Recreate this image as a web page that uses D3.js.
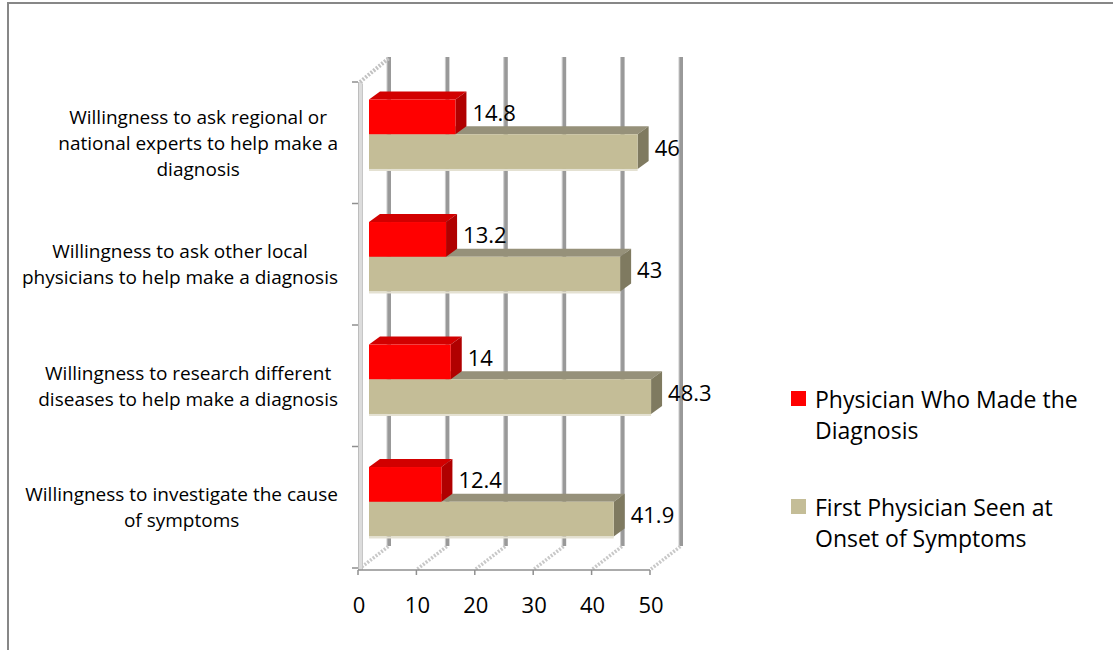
<!DOCTYPE html>
<html>
<head>
<meta charset="utf-8">
<script src="https://cdn.jsdelivr.net/npm/d3@7"></script>
<style>
  html, body { margin: 0; padding: 0; background: #fff; }
  svg { display: block; font-family: "Open Sans", "Noto Sans", sans-serif; }
</style>
</head>
<body>
<svg id="chart" width="1113" height="650"></svg>
<script>
// Category labels (line breaks as drawn on the axis)
const categories = [
  "Willingness to ask regional or\nnational experts to help make a\ndiagnosis",
  "Willingness to ask other local\nphysicians to help make a diagnosis",
  "Willingness to research different\ndiseases to help make a diagnosis",
  "Willingness to investigate the cause\nof symptoms"
];
const diagnosingPhysician = [14.8, 13.2, 14, 12.4];
const firstPhysician = [46, 43, 48.3, 41.9];
const seriesNames = [
  "Physician Who Made the\nDiagnosis",
  "First Physician Seen at\nOnset of Symptoms"
];
const seriesColors = ["#ff0000", "#c4bd97"];
const xTicks = [0, 10, 20, 30, 40, 50];

const svg = d3.select("#chart");

// Outer chart frame
svg.append("path")
  .attr("d", "M8,650 L8,3 L1113,3")
  .attr("fill", "none").attr("stroke", "#878787").attr("stroke-width", 2);

// 3-D projection: full depth of the plot box
const DX = 31, DY = -24;
const floorY = 570, topY = 82;

const x = d3.scaleLinear().domain([0, 50]).range([358, 650]);
const yAxisBand = d3.scaleBand().domain(categories).range([topY, 568]);

// bar plane sits part-way into the box; bars have their own depth
const barOff = { dx: 11, dy: -8.5 };
const barDepth = { dx: 11, dy: -8 };
const yBar = d3.scaleBand().domain(categories).range([73, 563])
  .paddingInner(0.433).paddingOuter(0.2165);

const g = svg.append("g");

// Back wall gridlines
const grid = g.append("g");
xTicks.forEach(t => {
  const bx = x(t) + DX;
  grid.append("line")
    .attr("x1", bx).attr("x2", bx)
    .attr("y1", topY + DY - 1).attr("y2", floorY + DY)
    .attr("stroke", "#999").attr("stroke-width", 4);
  grid.append("line")
    .attr("x1", bx - 2).attr("x2", bx - 2)
    .attr("y1", topY + DY - 1).attr("y2", floorY + DY)
    .attr("stroke", "#c9c9c9").attr("stroke-width", 1);
});

// Floor depth lines (hatched)
xTicks.forEach(t => {
  g.append("line")
    .attr("x1", x(t) + 1).attr("y1", floorY - 1)
    .attr("x2", x(t) + DX).attr("y2", floorY + DY)
    .attr("stroke", "#c8c8c8").attr("stroke-width", 3.5)
    .attr("stroke-dasharray", "2,1.5");
});

// Left side wall: front edge and top edge
g.append("rect")
  .attr("x", x(0)).attr("y", topY)
  .attr("width", 5).attr("height", floorY - topY)
  .attr("fill", "#dcdcdc");
g.append("line")
  .attr("x1", x(0) + 0.5).attr("x2", x(0) + 0.5)
  .attr("y1", topY).attr("y2", floorY)
  .attr("stroke", "#bdbdbd").attr("stroke-width", 1);
g.append("line")
  .attr("x1", x(0) + 4.5).attr("x2", x(0) + 4.5)
  .attr("y1", topY + 2).attr("y2", floorY)
  .attr("stroke", "#c6c6c6").attr("stroke-width", 1);
g.append("line")
  .attr("x1", x(0) + 2).attr("y1", topY)
  .attr("x2", x(0) + DX).attr("y2", topY + DY)
  .attr("stroke", "#c2c2c2").attr("stroke-width", 4)
  .attr("stroke-dasharray", "2,1.5");

// Floor front edge and value-axis ticks
g.append("line")
  .attr("x1", x(0)).attr("x2", x(50))
  .attr("y1", floorY).attr("y2", floorY)
  .attr("stroke", "#8f8f8f").attr("stroke-width", 1.5);
xTicks.forEach(t => {
  g.append("line")
    .attr("x1", x(t)).attr("x2", x(t))
    .attr("y1", floorY).attr("y2", floorY + 5)
    .attr("stroke", "#8f8f8f").attr("stroke-width", 1.5);
});
g.append("g").selectAll("text").data(xTicks).join("text")
  .attr("x", d => x(d) + 1).attr("y", 613)
  .attr("text-anchor", "middle")
  .attr("font-size", 22).attr("fill", "#000")
  .text(d => d);

// Category axis ticks at band boundaries
const boundaries = categories.map(c => yAxisBand(c)).concat([yAxisBand.range()[1]]);
boundaries.forEach(b => {
  g.append("line")
    .attr("x1", x(0) - 6).attr("x2", x(0))
    .attr("y1", b).attr("y2", b)
    .attr("stroke", "#8f8f8f").attr("stroke-width", 1.5);
});

// Category labels: block right-aligned, lines centered in the block
const labelRight = 338, lineH = 26;
categories.forEach(c => {
  const lines = c.split("\n");
  const cy = yAxisBand(c) + yAxisBand.bandwidth() / 2;
  const tg = g.append("g");
  const texts = lines.map((ln, i) => tg.append("text")
    .attr("y", cy + (i - (lines.length - 1) / 2) * lineH + 7)
    .attr("text-anchor", "middle")
    .attr("font-size", 19).attr("fill", "#000")
    .text(ln));
  const w = d3.max(texts, t => t.node().getComputedTextLength());
  texts.forEach(t => t.attr("x", labelRight - w / 2));
});

// 3-D bars: draw the lower series first so the upper bar's front covers its top face
const series = [
  { name: seriesNames[0], values: diagnosingPhysician, slot: 0,
    front: "#ff0000", top: "#d20000", side: "#b00000" },
  { name: seriesNames[1], values: firstPhysician, slot: 1,
    front: "#c4bd97", top: "#96917a", side: "#7f7a60" }
];
const half = yBar.bandwidth() / 2;
const bars = g.append("g");
[series[1], series[0]].forEach(s => {
  s.values.forEach((v, i) => {
    const c = categories[i];
    const x0 = x(0) + barOff.dx, x1 = x(v) + barOff.dx;
    const y0 = yBar(c) + s.slot * half, y1 = y0 + half;
    const bg = bars.append("g");
    bg.append("polygon")
      .attr("points", [[x0, y0], [x1, y0], [x1 + barDepth.dx, y0 + barDepth.dy], [x0 + barDepth.dx, y0 + barDepth.dy]].join(" "))
      .attr("fill", s.top);
    bg.append("polygon")
      .attr("points", [[x1, y0], [x1 + barDepth.dx, y0 + barDepth.dy], [x1 + barDepth.dx, y1 + barDepth.dy], [x1, y1]].join(" "))
      .attr("fill", s.side);
    bg.append("rect")
      .attr("x", x0).attr("y", y0)
      .attr("width", x1 - x0).attr("height", y1 - y0)
      .attr("fill", s.front);
    if (s.slot === 1) {
      bg.append("rect")
        .attr("x", x0).attr("y", y1)
        .attr("width", x1 - x0).attr("height", 2)
        .attr("fill", "#e4e1d2");
    }
    bg.append("text")
      .attr("x", x1 + barDepth.dx + 6)
      .attr("y", (y0 + y1) / 2 + 4)
      .attr("font-size", 22).attr("fill", "#000")
      .text(v);
  });
});

// Legend
const legend = g.append("g");
const legendY = [391, 499];
series.forEach((s, i) => {
  legend.append("rect")
    .attr("x", 791).attr("y", legendY[i])
    .attr("width", 15).attr("height", 15)
    .attr("fill", seriesColors[i]);
  s.name.split("\n").forEach((ln, j) => {
    legend.append("text")
      .attr("x", 815).attr("y", legendY[i] + 17 + j * 31)
      .attr("font-size", 23).attr("fill", "#000")
      .text(ln);
  });
});
</script>
</body>
</html>
